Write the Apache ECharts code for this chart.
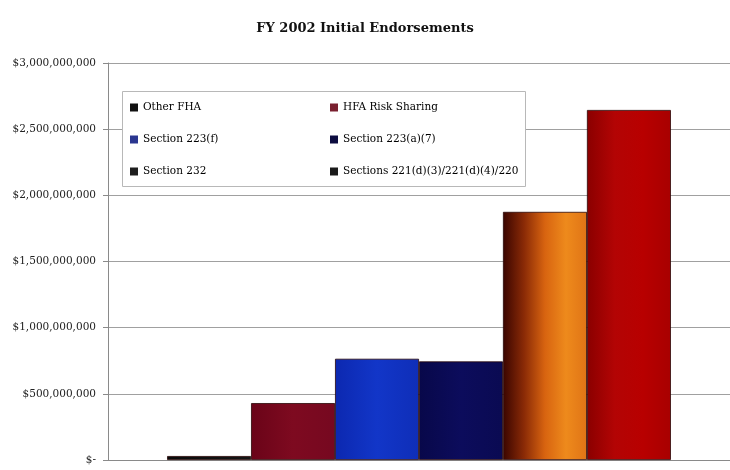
<!DOCTYPE html>
<html>
<head>
<meta charset="utf-8">
<script src="https://cdn.jsdelivr.net/npm/echarts@6/dist/echarts.min.js"></script>
<style>html,body{margin:0;padding:0;background:#fff;}#c{width:730px;height:470px;}</style>
</head>
<body>
<div id="c"></div>
<script>
const category = ['FY 2002'];
const seriesNames = ['Other FHA', 'HFA Risk Sharing', 'Section 223(f)', 'Section 223(a)(7)', 'Section 232', 'Sections 221(d)(3)/221(d)(4)/220'];
const otherFHA = [30000000];
const hfaRiskSharing = [430000000];
const section223f = [765000000];
const section223a7 = [745000000];
const section232 = [1875000000];
const sections221 = [2645000000];
const yTicks = [0, 500000000, 1000000000, 1500000000, 2000000000, 2500000000, 3000000000];

const values = [otherFHA, hfaRiskSharing, section223f, section223a7, section232, sections221];
function grad(stops) {
  return new echarts.graphic.LinearGradient(0, 0, 1, 0, stops.map((c, i) => ({offset: i / (stops.length - 1), color: c})));
}
const fills = [
  grad(['#0a0a0a', '#151515']),
  grad(['#6a0418', '#7e0a20', '#760820']),
  grad(['#0c28b0', '#1236c8', '#0f2eb8']),
  grad(['#08084a', '#0c0c5c', '#0a0a52']),
  grad(['#3a0500', '#8a2a06', '#d86410', '#ee8a1c', '#e07416']),
  grad(['#8a0000', '#b30404', '#b80000', '#a80000'])
];
const legendColors = ['#111', '#7a2030', '#2a3690', '#0c0c40', '#1e1e1e', '#1a1a1a'];

const chart = echarts.init(document.getElementById('c'), null, {renderer: 'canvas'});
const legendText = {fontFamily: 'DejaVu Serif', fontSize: 10.5, color: '#000'};
function legendItems(idx) {
  return idx.map(i => ({name: seriesNames[i], itemStyle: {color: legendColors[i], borderWidth: 0}}));
}
chart.setOption({
  animation: false,
  backgroundColor: '#fff',
  title: {
    text: 'FY 2002 Initial Endorsements',
    left: 'center', top: 17,
    textStyle: {fontFamily: 'DejaVu Serif', fontWeight: 'bold', fontSize: 13, color: '#111'}
  },
  graphic: [{
    type: 'rect', left: 122, top: 91, z: 5,
    shape: {width: 403, height: 95},
    style: {fill: '#fff', stroke: '#b8b8b8', lineWidth: 1}
  }],
  legend: [
    {
      orient: 'vertical', left: 125, top: 97, itemGap: 21, z: 10,
      itemWidth: 8, itemHeight: 8, icon: 'rect',
      data: legendItems([0, 2, 4]),
      textStyle: legendText
    },
    {
      orient: 'vertical', left: 325, top: 97, itemGap: 21, z: 10,
      itemWidth: 8, itemHeight: 8, icon: 'rect',
      data: legendItems([1, 3, 5]),
      textStyle: legendText
    }
  ],
  grid: {left: 108, right: 0, top: 63, bottom: 10, containLabel: false},
  xAxis: {
    type: 'category', data: category,
    axisLine: {lineStyle: {color: '#8a8a8a', width: 1}},
    axisTick: {show: false}, axisLabel: {show: false}
  },
  yAxis: {
    type: 'value', min: yTicks[0], max: yTicks[yTicks.length - 1], interval: yTicks[1] - yTicks[0],
    axisLine: {show: true, lineStyle: {color: '#8a8a8a'}},
    axisTick: {show: true, length: 5, lineStyle: {color: '#8a8a8a'}},
    splitLine: {lineStyle: {color: '#a0a0a0', width: 1}},
    axisLabel: {
      margin: 12,
      fontFamily: 'DejaVu Serif', fontSize: 10.5, color: '#222',
      formatter: v => v === 0 ? '$-' : '$' + v.toLocaleString('en-US')
    }
  },
  series: seriesNames.map((n, i) => ({
    name: n, type: 'bar', data: values[i],
    barGap: '0%', barCategoryGap: '19%',
    itemStyle: {color: fills[i], borderColor: '#2a0808', borderWidth: 0.8},
    emphasis: {disabled: true}
  }))
});
</script>
</body>
</html>
